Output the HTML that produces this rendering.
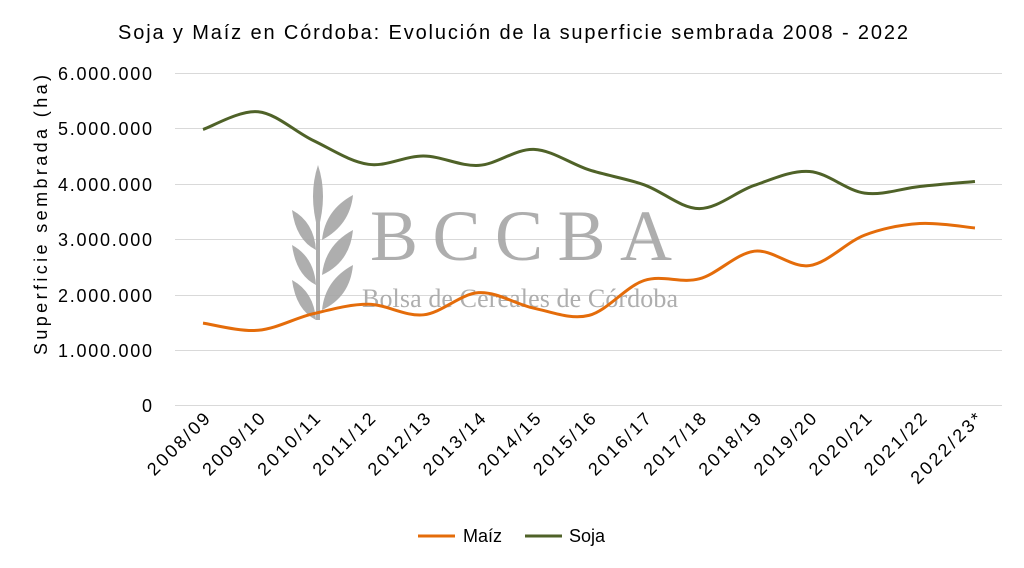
<!DOCTYPE html>
<html><head><meta charset="utf-8"><style>
body{margin:0;background:#fff}
svg{display:block;font-family:"Liberation Sans",sans-serif}
</style></head><body>
<svg id="s" width="1024" height="568" viewBox="0 0 1024 568">
<rect width="1024" height="568" fill="#fff"/>
<text x="118" y="39" textLength="790" font-size="20" fill="#000">Soja y Maíz en Córdoba: Evolución de la superficie sembrada 2008 - 2022</text>
<g stroke="#d9d9d9" stroke-width="1">
<line x1="175" x2="1002" y1="73.5" y2="73.5"/><line x1="175" x2="1002" y1="128.5" y2="128.5"/>
<line x1="175" x2="1002" y1="184.5" y2="184.5"/><line x1="175" x2="1002" y1="239.5" y2="239.5"/>
<line x1="175" x2="1002" y1="295.5" y2="295.5"/><line x1="175" x2="1002" y1="350.5" y2="350.5"/>
<line x1="175" x2="1002" y1="405.5" y2="405.5"/>
</g>
<g font-size="18" fill="#000" text-anchor="end">
<text x="152" y="80" textLength="94">6.000.000</text><text x="152" y="135" textLength="94">5.000.000</text><text x="152" y="191" textLength="94">4.000.000</text>
<text x="152" y="246" textLength="94">3.000.000</text><text x="152" y="302" textLength="94">2.000.000</text><text x="152" y="357" textLength="94">1.000.000</text>
<text x="152" y="412">0</text>
</g>
<text transform="translate(47,355) rotate(-90)" textLength="280" font-size="18">Superficie sembrada (ha)</text>
<g fill="#a6a6a6" opacity="0.9">
<path d="M318 165 Q328 195 318 230 Q308 195 318 165Z"/>
<path d="M353 195 Q350 225 322 240 Q325 210 353 195Z"/>
<path d="M292 210 Q296 240 316 250 Q314 222 292 210Z"/>
<path d="M353 230 Q350 262 322 275 Q325 245 353 230Z"/>
<path d="M292 245 Q296 275 316 285 Q314 257 292 245Z"/>
<path d="M353 265 Q350 297 322 310 Q325 280 353 265Z"/>
<path d="M292 280 Q296 310 316 320 Q314 292 292 280Z"/>
<rect x="316" y="200" width="4" height="120"/>
<text x="370" y="260" font-family="Liberation Serif,serif" font-size="72" textLength="302">BCCBA</text>
<text x="362" y="307" font-family="Liberation Serif,serif" font-size="26" textLength="316">Bolsa de Cereales de Córdoba</text>
</g>
<g id="xl" font-size="18" fill="#000"></g>
<path id="soja" fill="none" stroke="#4f6228" stroke-width="3"/>
<path id="maiz" fill="none" stroke="#e46c0a" stroke-width="3"/>
<line x1="418" x2="455" y1="536" y2="536" stroke="#e46c0a" stroke-width="3"/>
<text x="463" y="542" font-size="18">Maíz</text>
<line x1="525" x2="562" y1="536" y2="536" stroke="#4f6228" stroke-width="3"/>
<text x="569" y="542" font-size="18">Soja</text>
</svg>
<script>
var labs=["2008/09","2009/10","2010/11","2011/12","2012/13","2013/14","2014/15","2015/16","2016/17","2017/18","2018/19","2019/20","2020/21","2021/22","2022/23*"];
var soja=[4.98,5.3,4.78,4.35,4.5,4.33,4.62,4.25,3.98,3.55,3.97,4.22,3.83,3.95,4.04];
var maiz=[1.48,1.35,1.65,1.82,1.63,2.03,1.75,1.62,2.25,2.28,2.78,2.52,3.07,3.28,3.2];
function X(i){return 203+i*55.14}function Y(v){return 405-v*55.33}
function path(d){var p=d.map(function(v,i){return[X(i),Y(v)]});var s="M"+p[0];
for(var i=0;i<p.length-1;i++){var p0=p[i-1]||p[i],p1=p[i],p2=p[i+1],p3=p[i+2]||p2;
var c1=[p1[0]+(p2[0]-p0[0])/6,p1[1]+(p2[1]-p0[1])/6],c2=[p2[0]-(p3[0]-p1[0])/6,p2[1]-(p3[1]-p1[1])/6];
s+=" C"+c1+" "+c2+" "+p2;}return s}
document.getElementById("soja").setAttribute("d",path(soja));
document.getElementById("maiz").setAttribute("d",path(maiz));
var g=document.getElementById("xl"),h="";
labs.forEach(function(l,i){var x=X(i)+8,y=420,L=l.length>7?92:80;h+='<text text-anchor="end" textLength="'+L+'" transform="translate('+x+','+y+') rotate(-45)">'+l+'</text>'});
g.innerHTML=h;
</script>
</body></html>
